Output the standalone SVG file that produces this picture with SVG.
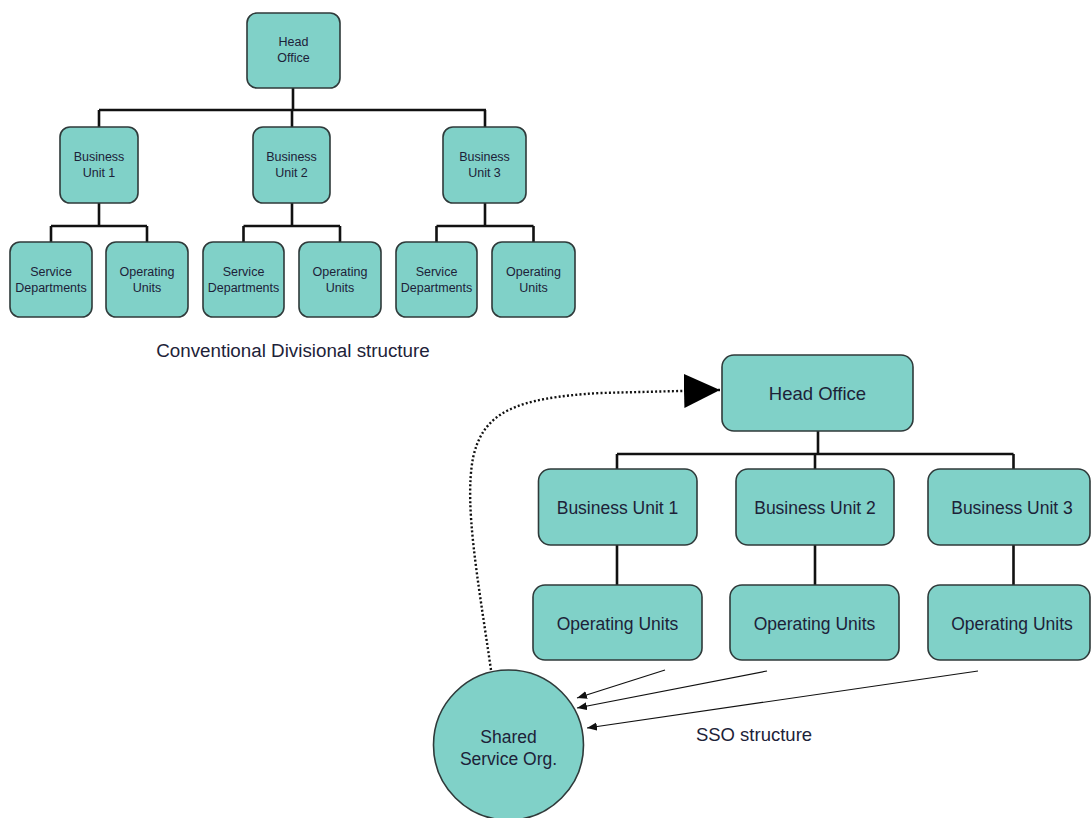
<svg xmlns="http://www.w3.org/2000/svg" width="1092" height="818" viewBox="0 0 1092 818">
<defs>
<style>
.box{fill:#80d1c8;stroke:#2f3a3a;stroke-width:1.6}
.t{font-family:"Liberation Sans",Arial,sans-serif;fill:#1d2238;text-anchor:middle}
.s{font-size:12.5px}
.l{font-size:17.5px}
.tree{fill:none;stroke:#111;stroke-width:2.6}
.thin{fill:none;stroke:#111;stroke-width:1.2}
.dot{fill:none;stroke:#111;stroke-width:2.4;stroke-dasharray:2 2.2}
</style>
<marker id="big" markerUnits="userSpaceOnUse" markerWidth="38" markerHeight="36" refX="36" refY="17" orient="auto">
<path d="M0,0 L36,17 L0,34 Z" fill="#000"/>
</marker>
<marker id="sm" markerUnits="userSpaceOnUse" markerWidth="12" markerHeight="10" refX="10" refY="4" orient="auto">
<path d="M0,0 L10,4 L0,8 Z" fill="#111"/>
</marker>
</defs>
<rect width="1092" height="818" fill="#fff"/>

<g id="connectors">
<path class="tree" d="M293,88 V110 M99,110 H486 M99,110 V127 M292,110 V127 M485,110 V127"/>
<path class="tree" d="M99,203 V226 M51,226 H147 M51,226 V242 M147,226 V242"/>
<path class="tree" d="M292,203 V226 M243.5,226 H340 M243.5,226 V242 M340,226 V242"/>
<path class="tree" d="M485,203 V226 M436.5,226 H533.5 M436.5,226 V242 M533.5,226 V242"/>
<path class="tree" d="M818,431 V454 M617,454 H1013.5 M617,454 V469 M815,454 V469 M1013.5,454 V469"/>
<path class="tree" d="M617,545 V585 M815,545 V585 M1013.5,545 V585"/>
<path class="thin" d="M665,670 L577,698" marker-end="url(#sm)"/>
<path class="thin" d="M767,671 L577,708" marker-end="url(#sm)"/>
<path class="thin" d="M978,671 L587,728" marker-end="url(#sm)"/>
<path class="dot" d="M491,670 C478,580 464,505 473,458 C483,412 515,398 600,393 L720,390" marker-end="url(#big)"/>
</g>

<g id="top-head-office"><rect class="box" x="247" y="13" width="93" height="75" rx="10"/><text class="t s" x="293.5" y="46">Head</text><text class="t s" x="293.5" y="62">Office</text></g>
<g id="top-bu1"><rect class="box" x="60" y="127" width="78" height="76" rx="10"/><text class="t s" x="99" y="161">Business</text><text class="t s" x="99" y="177">Unit 1</text></g>
<g id="top-bu2"><rect class="box" x="253" y="127" width="77" height="76" rx="10"/><text class="t s" x="291.5" y="161">Business</text><text class="t s" x="291.5" y="177">Unit 2</text></g>
<g id="top-bu3"><rect class="box" x="443" y="127" width="83" height="76" rx="10"/><text class="t s" x="484.5" y="161">Business</text><text class="t s" x="484.5" y="177">Unit 3</text></g>
<g id="top-sd1"><rect class="box" x="10" y="242" width="82" height="75" rx="10"/><text class="t s" x="51" y="276">Service</text><text class="t s" x="51" y="292">Departments</text></g>
<g id="top-ou1"><rect class="box" x="106" y="242" width="82" height="75" rx="10"/><text class="t s" x="147" y="276">Operating</text><text class="t s" x="147" y="292">Units</text></g>
<g id="top-sd2"><rect class="box" x="203" y="242" width="81" height="75" rx="10"/><text class="t s" x="243.5" y="276">Service</text><text class="t s" x="243.5" y="292">Departments</text></g>
<g id="top-ou2"><rect class="box" x="299" y="242" width="82" height="75" rx="10"/><text class="t s" x="340" y="276">Operating</text><text class="t s" x="340" y="292">Units</text></g>
<g id="top-sd3"><rect class="box" x="396" y="242" width="81" height="75" rx="10"/><text class="t s" x="436.5" y="276">Service</text><text class="t s" x="436.5" y="292">Departments</text></g>
<g id="top-ou3"><rect class="box" x="492" y="242" width="83" height="75" rx="10"/><text class="t s" x="533.5" y="276">Operating</text><text class="t s" x="533.5" y="292">Units</text></g>
<text class="t" x="293" y="357" font-size="18.8">Conventional Divisional structure</text>

<g id="sso-head-office"><rect class="box" x="722" y="355" width="191" height="76" rx="12"/><text class="t" x="817.5" y="400" font-size="18.5">Head Office</text></g>
<g id="sso-bu1"><rect class="box" x="538.5" y="469" width="158.5" height="76" rx="12"/><text class="t l" x="617.5" y="514">Business Unit 1</text></g>
<g id="sso-bu2"><rect class="box" x="736" y="469" width="158" height="76" rx="12"/><text class="t l" x="815" y="514">Business Unit 2</text></g>
<g id="sso-bu3"><rect class="box" x="928" y="469" width="162" height="76" rx="12"/><text class="t l" x="1012" y="514">Business Unit 3</text></g>
<g id="sso-ou1"><rect class="box" x="533" y="585" width="169" height="75" rx="12"/><text class="t l" x="617.5" y="630">Operating Units</text></g>
<g id="sso-ou2"><rect class="box" x="730" y="585" width="169" height="75" rx="12"/><text class="t l" x="814.5" y="630">Operating Units</text></g>
<g id="sso-ou3"><rect class="box" x="928" y="585" width="162" height="75" rx="12"/><text class="t l" x="1012" y="630">Operating Units</text></g>
<g id="sso"><ellipse class="box" cx="508.5" cy="745" rx="75" ry="75"/><text class="t l" x="508.5" y="743">Shared</text><text class="t l" x="508.5" y="765">Service Org.</text></g>
<text class="t" x="754" y="741" font-size="18.5">SSO structure</text>
</svg>
